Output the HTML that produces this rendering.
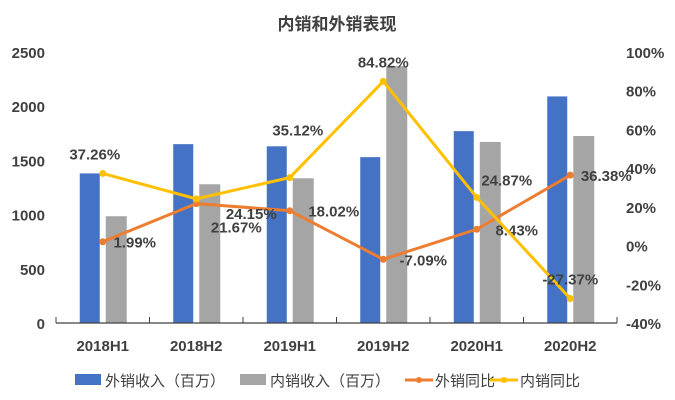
<!DOCTYPE html>
<html><head><meta charset="utf-8"><style>
body{margin:0;background:#fff;}
svg{display:block;font-family:"Liberation Sans","Noto Sans CJK SC",sans-serif;}
</style></head><body>
<svg id="c" width="675" height="400">
<text x="337" y="30" text-anchor="middle" font-size="17" font-weight="bold" fill="#404040">内销和外销表现</text>
<g id="g"></g>
</svg>
<script>
const categories=["2018H1","2018H2","2019H1","2019H2","2020H1","2020H2"];
const exportRev=[1380,1650,1630,1530,1770,2090];
const domesticRev=[985,1280,1335,2370,1670,1725];
const exportYoY=[1.99,21.67,18.02,-7.09,8.43,36.38];
const domesticYoY=[37.26,24.15,35.12,84.82,24.87,-27.37];
const leftTicks=[0,500,1000,1500,2000,2500];
const rightTicks=[-40,-20,0,20,40,60,80,100];
const NS="http://www.w3.org/2000/svg";
const g=document.getElementById('g');
const X0=56,X1=617,YT=52,YB=323;
const bw=(X1-X0)/categories.length;
const cx=i=>X0+bw*(i+0.5);
const yL=v=>YB-(v/2500)*(YB-YT);
const yR=v=>YB-((v+40)/140)*(YB-YT);
function mk(t,a,txt){const e=document.createElementNS(NS,t);for(const k in a)e.setAttribute(k,a[k]);if(txt!==undefined)e.textContent=txt;g.appendChild(e);return e;}
leftTicks.forEach(v=>{const e=mk('text',{x:45,y:yL(v)+6,'text-anchor':'end','font-size':15,'font-weight':'bold',fill:'#404040'},String(v));
});
rightTicks.forEach(v=>{const e=mk('text',{x:626,y:yR(v)+6,'font-size':15,'font-weight':'bold',fill:'#404040'},v+'%');
});
categories.forEach((c,i)=>{
const b1=mk('rect',{x:cx(i)-23,y:yL(exportRev[i]),width:20,height:YB-yL(exportRev[i]),fill:'#4472c4'});

const b2=mk('rect',{x:cx(i)+3,y:yL(domesticRev[i]),width:21,height:YB-yL(domesticRev[i]),fill:'#a5a5a5'});

const t=mk('text',{x:cx(i),y:351,'text-anchor':'middle','font-size':15,'font-weight':'bold',fill:'#404040'},c);

});
const ax=mk('line',{x1:X0,x2:X1,y1:YB,y2:YB,stroke:'#404040','stroke-width':1.3});

for(let i=0;i<=categories.length;i++){const tk=mk('line',{x1:X0+bw*i,x2:X0+bw*i,y1:YB,y2:YB-6,stroke:'#404040'});
}
function series(vals,col,name,offs){
const p=mk('polyline',{points:vals.map((v,i)=>cx(i)+','+yR(v)).join(' '),fill:'none',stroke:col,'stroke-width':3});

vals.forEach((v,i)=>{const d=mk('circle',{cx:cx(i),cy:yR(v),r:3.5,fill:col});

const o=offs[i];const l=mk('text',{x:cx(i)+o[0],y:yR(v)+o[1],'text-anchor':'middle','font-size':15,'font-weight':'bold',fill:'#404040'},v.toFixed(2)+'%');
});
}
series(exportYoY,'#ed7d31','export-yoy',[[32,6],[40,29],[44,6],[40,6],[40,6],[36,6]]);
series(domesticYoY,'#ffc000','domestic-yoy',[[-8,-14],[55,20],[8,-42],[0,-14],[30,-12],[0,-14]]);
const leg=[['#4472c4','外销收入（百万）',75,'rect'],['#a5a5a5','内销收入（百万）',240,'rect'],['#ed7d31','外销同比',405,'line'],['#ffc000','内销同比',490,'line']];
leg.forEach(l=>{
const e=l[3]==='rect'?mk('rect',{x:l[2],y:374,width:26,height:11,fill:l[0]}):mk('line',{x1:l[2],x2:l[2]+28,y1:380,y2:380,stroke:l[0],'stroke-width':3});

if(l[3]==='line'){const dt=mk('circle',{cx:l[2]+14,cy:380,r:3,fill:l[0]});
}
const t=mk('text',{x:l[2]+30,y:386,'font-size':15,fill:'#404040'},l[1]);

});
</script>
</body></html>
